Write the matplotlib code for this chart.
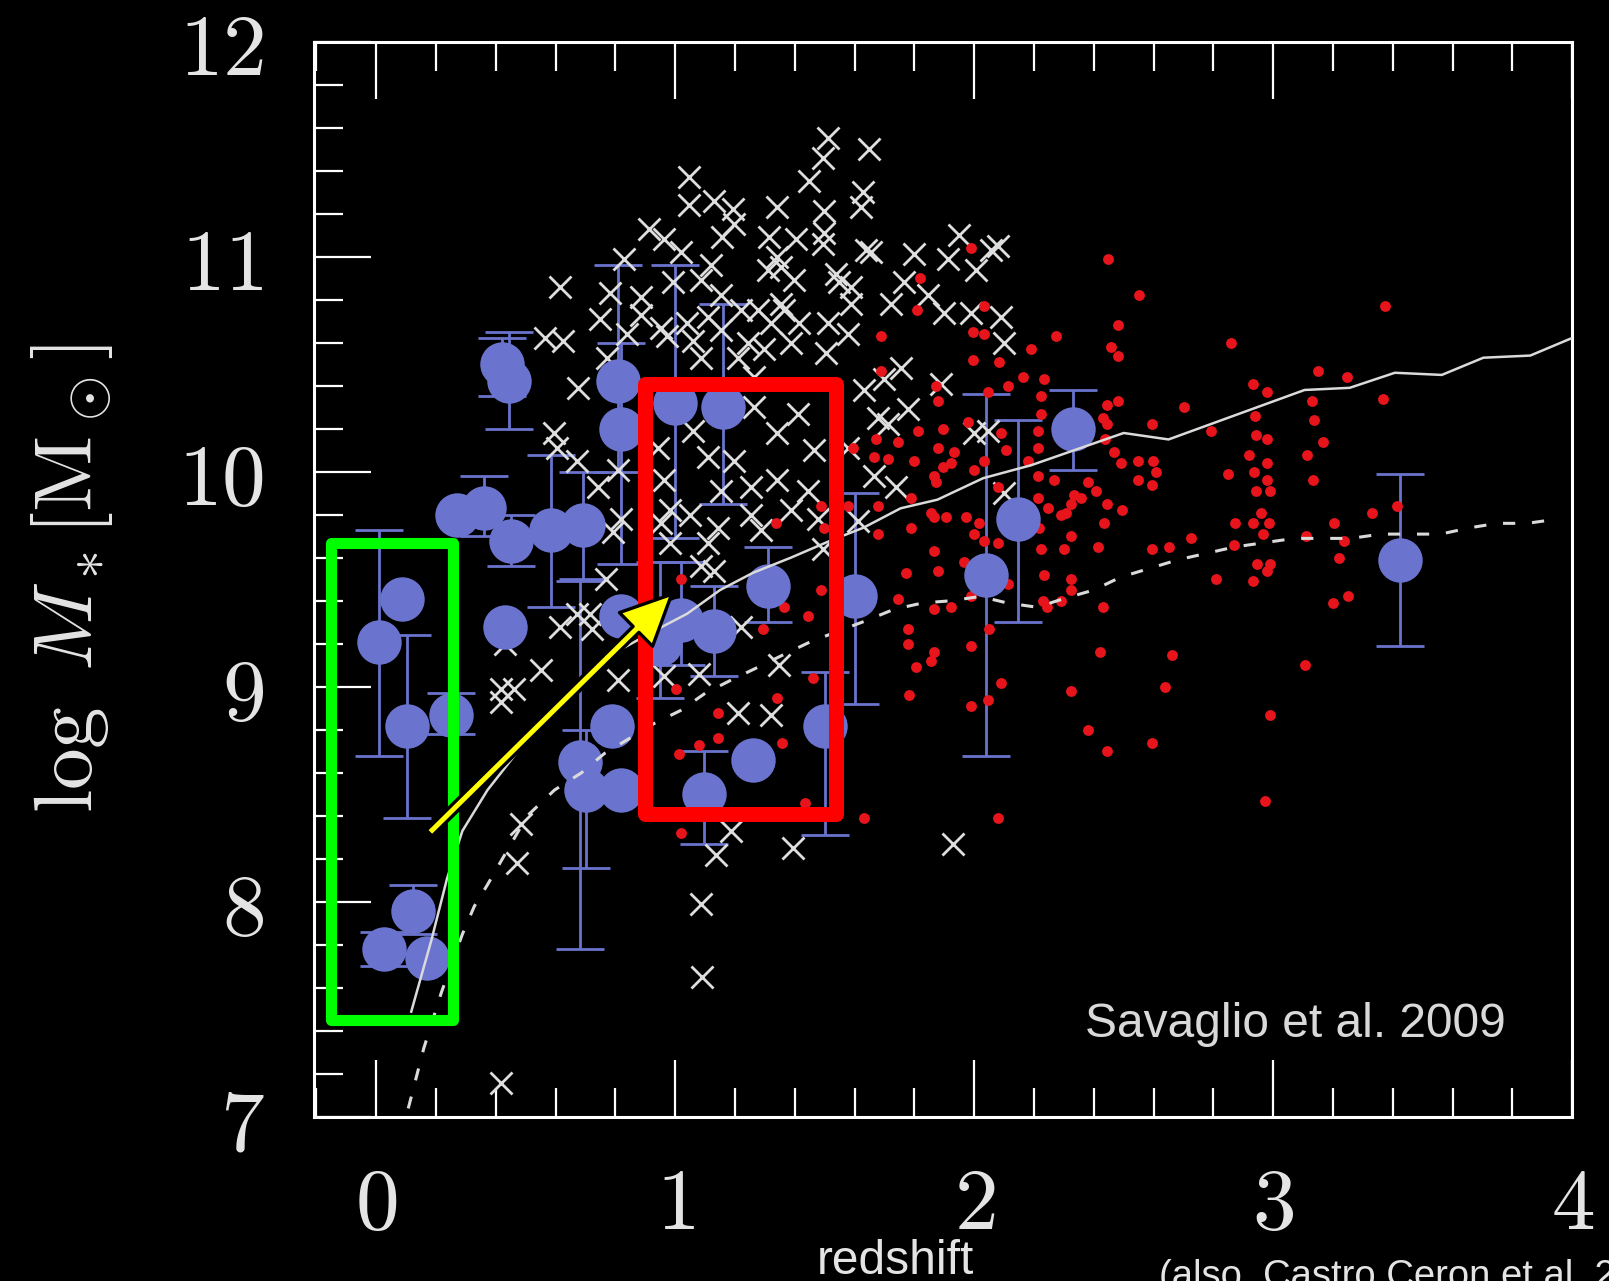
import numpy as np
import matplotlib.pyplot as plt
from matplotlib.patches import Rectangle, FancyArrowPatch, ArrowStyle
from matplotlib.ticker import MultipleLocator

plt.rcParams['mathtext.fontset'] = 'cm'

# GRB host galaxies (blue circles), error bar ends (nan = no bar drawn)
host_z = [0.008, 0.087, 0.103, 0.25, 0.124, 0.027, 0.17, 0.42, 0.445, 0.27,
          0.36, 0.45, 0.43, 0.585, 0.69, 0.68, 0.70, 0.82, 0.79, 0.81,
          0.82, 1.00, 1.16, 1.31, 1.60, 0.82, 0.95, 1.02, 1.13, 1.26,
          1.095, 1.50, 2.04, 2.145, 2.33, 3.425]
host_m = [9.21, 9.41, 8.82, 8.87, 7.96, 7.78, 7.74, 10.50, 10.42, 9.80,
          9.83, 9.68, 9.28, 9.73, 9.75, 8.65, 8.52, 8.52, 8.82, 10.42,
          10.20, 10.32, 10.30, 9.47, 9.42, 9.33, 9.20, 9.31, 9.26, 8.66,
          8.50, 8.82, 9.52, 9.78, 10.20, 9.59]
host_lo = [8.68, np.nan, 8.39, 8.78, 7.85, 7.70, np.nan, 10.35, 10.20, np.nan,
           9.70, 9.56, np.nan, 9.37, 9.50, 7.78, 8.16, np.nan, np.nan, 10.00,
           9.57, 9.69, 9.85, 9.30, 8.92, np.nan, 8.95, 9.10, 9.05, np.nan,
           8.27, 8.31, 8.68, 9.30, 10.01, 9.19]
host_hi = [9.73, np.nan, 9.24, 8.97, 8.08, 7.86, np.nan, 10.62, 10.65, np.nan,
           9.98, 9.80, np.nan, 10.08, 10.00, 9.49, 8.80, np.nan, np.nan, 10.96,
           10.60, 10.96, 10.78, 9.65, 9.90, np.nan, 9.58, 9.58, 9.47, np.nan,
           8.70, 9.07, 10.36, 10.24, 10.38, 9.99]

# field galaxies (white crosses)
field_z = [1.045, 1.045, 1.128, 1.192, 1.195, 1.158, 1.342, 1.312, 0.911, 0.961,
           1.018, 0.827, 1.118, 0.616, 0.783, 0.884, 0.994, 1.085, 1.152, 1.309,
           1.342, 0.750, 0.884, 0.951, 1.041, 1.108, 1.219, 1.276, 1.353, 0.566,
           0.623, 0.840, 0.974, 1.061, 1.152, 1.242, 1.319, 0.676, 0.773, 1.085,
           1.209, 1.296, 1.262,
           1.510, 1.493, 1.647, 1.446, 1.627, 1.620, 1.497, 1.497, 1.493, 1.403,
           1.637, 1.654, 1.798, 1.912, 1.948, 2.079, 2.056, 2.005, 1.353, 1.396,
           1.537, 1.587, 1.547, 1.764, 1.845, 1.721, 1.898, 1.989, 2.089, 2.099,
           1.363, 1.413, 1.510, 1.587, 1.577, 1.503, 1.386, 1.754, 1.697, 1.888,
           1.630,
           0.593, 0.606, 0.673, 0.743, 0.807, 0.817, 0.793, 0.767, 0.716, 0.616,
           0.941, 0.961, 0.984, 1.061, 1.108, 1.195, 1.262, 1.342, 1.252, 1.152,
           1.051, 1.142, 1.252, 1.286, 1.108, 1.085, 1.128, 0.984, 0.951, 1.219,
           1.778, 1.677, 1.711, 1.999, 2.046, 1.664, 1.738, 1.577, 1.342, 1.409,
           1.463, 1.443, 1.386, 1.476, 1.493, 1.610, 2.099,
           1.346, 1.209, 1.319, 0.961, 1.078, 1.185, 1.135, 1.393, 1.928, 1.085,
           1.091,
           0.673, 0.429, 0.418, 0.462, 0.552, 0.418, 0.720, 0.807, 0.485, 0.472,
           0.418]
field_m = [11.37, 11.24, 11.26, 11.22, 11.15, 11.09, 11.23, 11.09, 11.13, 11.08,
           11.02, 10.99, 10.96, 10.86, 10.83, 10.81, 10.88, 10.89, 10.82, 10.94,
           11.00, 10.71, 10.73, 10.67, 10.69, 10.72, 10.75, 10.75, 10.78, 10.62,
           10.61, 10.64, 10.63, 10.61, 10.66, 10.60, 10.69, 10.39, 10.53, 10.53,
           10.53, 10.57, 10.44,
           11.55, 11.46, 11.50, 11.35, 11.30, 11.23, 11.21, 11.11, 11.06, 11.08,
           11.03, 11.02, 11.01, 10.99, 11.10, 11.05, 11.03, 10.94, 10.95, 10.89,
           10.92, 10.86, 10.88, 10.88, 10.82, 10.78, 10.74, 10.74, 10.72, 10.60,
           10.75, 10.69, 10.69, 10.78, 10.64, 10.55, 10.60, 10.48, 10.43, 10.41,
           10.38,
           10.18, 10.11, 10.05, 9.93, 10.01, 9.78, 9.72, 9.50, 9.34, 9.28,
           10.11, 9.96, 9.82, 10.19, 10.07, 10.05, 10.30, 9.96, 9.93, 9.91,
           9.80, 9.74, 9.80, 9.73, 9.67, 9.56, 9.54, 9.67, 9.76, 9.28,
           10.29, 10.25, 10.22, 10.18, 10.19, 9.98, 9.93, 10.11, 10.18, 10.27,
           10.10, 9.91, 9.82, 9.78, 9.64, 9.77, 9.90,
           9.10, 8.88, 8.87, 9.05, 9.06, 8.33, 8.22, 8.25, 8.27, 7.99,
           7.65,
           9.34, 9.20, 8.99, 8.99, 9.08, 8.93, 9.27, 9.03, 8.36, 8.18,
           7.16]

# high-z field galaxies (red dots)
red_z = [1.989, 1.818, 1.808, 2.032, 1.995, 2.032, 2.189, 1.687, 1.995, 2.082,
         1.687, 2.163, 2.233, 2.113, 1.871, 2.046, 2.223, 1.878, 1.811, 1.895,
         1.979, 2.089, 2.223, 1.744, 1.671, 1.594, 1.878, 1.932, 1.664, 1.711,
         1.798, 1.895, 1.922, 1.999, 2.032, 2.106, 2.179, 2.213, 1.865, 1.871,
         2.213, 2.079, 1.788, 1.677, 1.855, 1.865, 1.905, 1.972, 2.015, 1.788,
         1.999, 2.032, 2.079, 1.677, 1.486, 1.497, 1.336, 1.577, 1.865, 1.965,
         2.213, 2.223, 1.771, 1.878, 2.113, 1.486, 1.744, 1.865, 1.922, 1.989,
         2.230, 1.443, 1.778, 2.049, 1.778, 1.989, 1.865, 2.273, 2.213, 2.267,
         2.380, 2.333, 2.407, 2.246, 2.290, 2.323, 2.216, 2.323, 2.300, 2.414,
         2.233, 2.323, 2.323, 2.290, 1.855, 1.805, 2.089, 2.323, 1.781, 2.046,
         1.989, 2.380, 1.630, 2.079, 2.447, 2.551, 2.481, 2.457, 2.481, 2.859,
         3.375, 2.444, 2.481, 2.702, 2.431, 2.444, 2.595, 3.150, 3.247, 2.933,
         2.980, 3.130, 3.368, 2.939, 3.137, 2.792, 2.943, 2.980, 3.167, 2.437,
         2.467, 2.548, 2.598, 2.491, 2.919, 2.980, 3.113, 2.849, 2.936, 2.608,
         2.548, 2.595, 2.980, 3.134, 2.943, 2.990, 2.357, 2.444, 2.494, 2.307,
         2.434, 2.960, 2.872, 2.933, 2.986, 3.204, 3.331, 3.415, 2.725, 2.966,
         3.110, 3.237, 2.595, 2.652, 2.869, 3.221, 2.946, 2.990, 2.980, 2.809,
         2.933, 2.243, 2.431, 3.251, 3.201, 2.420, 2.662, 3.107, 2.638, 2.990,
         2.595, 2.444, 2.973, 1.460, 1.342, 1.142, 1.142, 1.078, 1.011, 1.356,
         1.001, 1.433, 1.018, 1.018, 1.292, 1.363]
red_m = [11.04, 10.90, 10.75, 10.77, 10.65, 10.64, 10.57, 10.63, 10.52, 10.51,
         10.47, 10.44, 10.43, 10.40, 10.40, 10.37, 10.35, 10.33, 10.19, 10.20,
         10.23, 10.18, 10.27, 10.14, 10.15, 10.11, 10.11, 10.09, 10.07, 10.06,
         10.05, 10.02, 10.04, 10.01, 10.05, 10.10, 10.05, 10.11, 9.98, 9.95,
         9.98, 9.93, 9.88, 9.84, 9.81, 9.79, 9.79, 9.79, 9.76, 9.74,
         9.71, 9.68, 9.67, 9.71, 9.84, 9.74, 9.76, 9.84, 9.63, 9.58,
         9.88, 9.64, 9.53, 9.54, 9.48, 9.45, 9.41, 9.36, 9.37, 9.42,
         9.40, 9.33, 9.27, 9.27, 9.20, 9.19, 9.16, 10.63, 10.19, 9.96,
         9.95, 9.89, 9.91, 9.83, 9.80, 9.85, 9.74, 9.70, 9.64, 9.65,
         9.52, 9.50, 9.45, 9.40, 9.12, 9.09, 9.02, 8.98, 8.96, 8.94,
         8.91, 8.80, 8.39, 8.39, 10.99, 10.82, 10.68, 10.58, 10.54, 10.60,
         10.77, 10.31, 10.33, 10.30, 10.25, 10.22, 10.22, 10.47, 10.44, 10.41,
         10.37, 10.33, 10.34, 10.26, 10.24, 10.19, 10.17, 10.15, 10.14, 10.15,
         10.09, 10.05, 10.05, 10.04, 10.08, 10.04, 10.08, 9.99, 10.00, 10.00,
         9.96, 9.94, 9.96, 9.96, 9.91, 9.91, 9.88, 9.85, 9.82, 9.81,
         9.76, 9.81, 9.76, 9.76, 9.76, 9.76, 9.81, 9.84, 9.69, 9.71,
         9.70, 9.68, 9.64, 9.65, 9.66, 9.60, 9.57, 9.57, 9.54, 9.50,
         9.49, 9.37, 9.37, 9.42, 9.39, 9.16, 9.15, 9.10, 9.00, 8.87,
         8.74, 8.70, 8.47, 9.04, 8.95, 8.88, 8.76, 8.73, 8.69, 8.74,
         8.99, 8.46, 8.32, 9.50, 9.27, 9.37]

# model tracks
solid_z = [0.117, 0.184, 0.237, 0.288, 0.372, 0.451, 0.55, 0.70, 0.80, 0.93,
           1.04, 1.15, 1.26, 1.386, 1.52, 1.63, 1.754, 1.877, 2.03, 2.19,
           2.50, 2.65, 3.105, 3.256, 3.407, 3.564, 3.703, 3.86, 3.997]
solid_m = [7.49, 7.82, 8.11, 8.33, 8.52, 8.66, 8.84, 9.05, 9.16, 9.26,
           9.34, 9.45, 9.53, 9.60, 9.68, 9.74, 9.83, 9.87, 9.97, 10.03,
           10.18, 10.15, 10.38, 10.39, 10.46, 10.45, 10.53, 10.54, 10.62]
dash_z = [0.107, 0.159, 0.218, 0.288, 0.328, 0.372, 0.43, 0.505, 0.596, 0.686,
          0.763, 0.93, 1.018, 1.10, 1.185, 1.275, 1.363, 1.453, 1.643, 1.731,
          1.828, 1.922, 2.02, 2.11, 2.21, 2.30, 2.40, 2.49, 2.585, 2.68,
          2.775, 2.87, 2.97, 3.07, 3.17, 3.26, 3.36, 3.46, 3.56, 3.66,
          3.75, 3.85, 3.95]
dash_m = [7.04, 7.32, 7.58, 7.85, 7.98, 8.08, 8.22, 8.40, 8.52, 8.60,
          8.69, 8.83, 8.89, 8.97, 9.03, 9.09, 9.15, 9.21, 9.31, 9.36,
          9.39, 9.40, 9.42, 9.39, 9.37, 9.41, 9.45, 9.51, 9.55, 9.59,
          9.62, 9.65, 9.67, 9.69, 9.69, 9.69, 9.71, 9.71, 9.71, 9.74,
          9.76, 9.76, 9.78]

x_ticks = [0, 1, 2, 3, 4]
y_ticks = [7, 8, 9, 10, 11, 12]

blue = '#6a73cd'
grey = '#e4e4e4'

fig = plt.figure(figsize=(16.09, 12.81), dpi=100, facecolor='black')
ax = fig.add_axes([0.1952, 0.1280, 0.7819, 0.8396])
ax.set_facecolor('black')

hz = np.array(host_z)
hm = np.array(host_m)
lo = np.array(host_lo)
hi = np.array(host_hi)
ok = ~np.isnan(lo)
ax.errorbar(hz[ok], hm[ok], yerr=[hm[ok] - lo[ok], hi[ok] - hm[ok]], fmt='none',
            ecolor=blue, elinewidth=2, capsize=17, capthick=2, zorder=2)

ax.plot(field_z, field_m, ls='none', marker='x', ms=16.5, mew=2.0,
        color='#dedede', zorder=3)
ax.plot(red_z, red_m, ls='none', marker='o', ms=7.8, mew=0,
        color='#e8141b', zorder=3)
ax.plot(hz, hm, ls='none', marker='o', ms=32, mew=0, color=blue, zorder=4)

ax.plot(solid_z, solid_m, color='#dadada', lw=1.8, zorder=5)
ax.plot(dash_z, dash_m, color='#dadada', lw=2.2, dashes=(4, 5.5), zorder=5)

# highlight boxes and arrow
ax.add_patch(Rectangle((-0.153, 7.45), 0.408, 2.22, fill=False, ec='#00ff00',
                       lw=8, joinstyle='round', zorder=7))
ax.add_patch(Rectangle((0.899, 8.41), 0.639, 2.0, fill=False, ec='#ff0000',
                       lw=10.8, joinstyle='round', zorder=7))
ax.add_patch(FancyArrowPatch((0.177, 8.32), (0.988, 9.43),
                             arrowstyle=ArrowStyle.Simple(head_length=36, head_width=34, tail_width=6),
                             mutation_scale=1, fc='#ffff00', ec='black', lw=2.4,
                             shrinkA=0, shrinkB=0, zorder=8))

ax.set_xlim(-0.208, 4.0)
ax.set_ylim(7, 12)
ax.set_xticks(x_ticks)
ax.set_xticklabels([f'${t}$' for t in x_ticks])
ax.set_yticks(y_ticks)
ax.set_yticklabels([f'${t}$' for t in y_ticks])
ax.xaxis.set_minor_locator(MultipleLocator(0.2))
ax.yaxis.set_minor_locator(MultipleLocator(0.2))

ax.tick_params(which='both', direction='in', color='white', labelcolor=grey,
               top=True, right=False, bottom=True, left=True)
ax.tick_params(which='major', length=41, width=1.6, labelsize=63)
ax.tick_params(which='minor', length=21, width=1.6)
ax.tick_params(axis='x', which='major', pad=33)
ax.tick_params(axis='y', which='major', pad=36)
for s in ax.spines.values():
    s.set_color('white')
    s.set_linewidth(2.2)

ax.set_ylabel(r'$\log\ M_*[\mathrm{M}_\odot]$', fontsize=60, color=grey)
ax.yaxis.set_label_coords(-0.158, 0.5)
ax.set_xlabel('redshift', fontsize=34.5, color=grey, family='Liberation Sans')
ax.xaxis.set_label_coords(0.462, -0.146)
ax.xaxis.label.set_va('baseline')

ax.text(0.613, 0.0748, 'Savaglio et al. 2009', transform=ax.transAxes,
        fontsize=34.5, family='Liberation Sans', color='#d9d9d9',
        ha='left', va='baseline')
# the reference cuts this credit line off at the bottom-right corner
fig.text(0.7203, -0.005, '(also, Castro Ceron et al. 2010)', fontsize=27.5,
         family='Liberation Sans', color=grey, ha='left', va='baseline')

fig.savefig('out.png', dpi=100, facecolor='black')
